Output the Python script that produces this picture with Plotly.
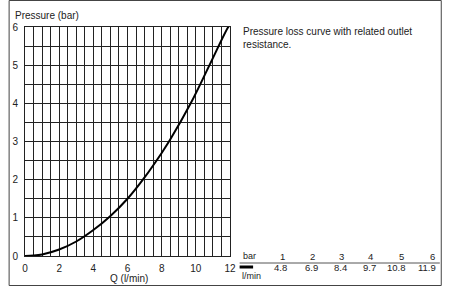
import plotly.graph_objects as go

# Data
flow_lpm = [0, 0.5, 1, 2, 3, 4, 5, 6, 7, 8, 8.5, 9.7, 10.8, 11.9, 12.0]
pressure_bar = [0, 0.01, 0.04, 0.17, 0.38, 0.68, 1.05, 1.5, 2.06, 2.7, 3.05, 4.0, 5.0, 6.0, 6.05]
x_ticks = [0, 2, 4, 6, 8, 10, 12]
y_ticks = [0, 1, 2, 3, 4, 5, 6]
table_bar = ["1", "2", "3", "4", "5", "6"]
table_lpm = ["4.8", "6.9", "8.4", "9.7", "10.8", "11.9"]

W, H = 450, 286
L, R, T, B = 17, 230, 27, 256
FONT = "Liberation Sans, Arial, sans-serif"
GRID = "#222222"


def px(x):
    return (x - L) / (R - L)


def py(y):
    return (B - y) / (B - T)


fig = go.Figure()
fig.add_trace(go.Scatter(x=flow_lpm, y=pressure_bar, mode="lines",
                         line=dict(color="black", width=2, shape="spline", smoothing=1),
                         hoverinfo="skip", showlegend=False, cliponaxis=True))

axis_common = dict(showgrid=True, gridcolor=GRID, gridwidth=1, zeroline=False,
                   showline=True, linecolor=GRID, linewidth=1, mirror=True,
                   ticks="", tickfont=dict(size=10, color="#222", family=FONT))
fig.update_xaxes(range=[0, 12], tickvals=x_ticks, ticktext=[str(v) for v in x_ticks],
                 ticklabelstandoff=3,
                 minor=dict(dtick=0.5, showgrid=True, gridcolor=GRID, gridwidth=1, ticks=""),
                 **axis_common)
fig.update_yaxes(range=[0, 6], tickvals=y_ticks, ticktext=[str(v) for v in y_ticks],
                 ticklabelstandoff=4,
                 minor=dict(dtick=0.5, showgrid=True, gridcolor=GRID, gridwidth=1, ticks=""),
                 **axis_common)

ann = []


def text(x, y, s, xanchor="left", size=10):
    ann.append(dict(x=px(x), y=py(y), xref="paper", yref="paper", text=s, showarrow=False,
                    xanchor=xanchor, yanchor="middle",
                    font=dict(size=size, color="#222", family=FONT)))


text(5, 15, "Pressure (bar)")
text(125, 278, "Q (l/min)", xanchor="center")
text(241, 31, "Pressure loss curve with related outlet")
text(241, 45, "resistance.")
text(241, 256, "bar", size=9)
text(240, 276, "l/min", size=9)
bar_x = [289, 320, 351, 381, 413, 445]
for xx, s in zip(bar_x, table_bar):
    text(xx, 256, s, xanchor="right", size=9.5)
lpm_x = [291, 323, 354, 384, 415, 446]
for xx, s in zip(lpm_x, table_lpm):
    text(xx, 267, s, xanchor="right", size=9.5)
fig.update_layout(annotations=ann)

shapes = [
    dict(type="line", xref="paper", yref="paper", x0=px(240), x1=px(448), y0=py(263), y1=py(263),
         line=dict(color="#555", width=1)),
    dict(type="line", xref="paper", yref="paper", x0=px(240), x1=px(254), y0=py(267), y1=py(267),
         line=dict(color="black", width=3)),
    dict(type="rect", xref="paper", yref="paper", x0=px(0.5), x1=px(449.5), y0=py(285.5), y1=py(0.5),
         line=dict(color="#444", width=1)),
]
fig.update_layout(shapes=shapes)

fig.update_layout(width=W, height=H, margin=dict(l=L, r=W - R, t=T, b=H - B),
                  paper_bgcolor="white", plot_bgcolor="white", showlegend=False)

fig.write_html("out.html", config={"displayModeBar": False})
